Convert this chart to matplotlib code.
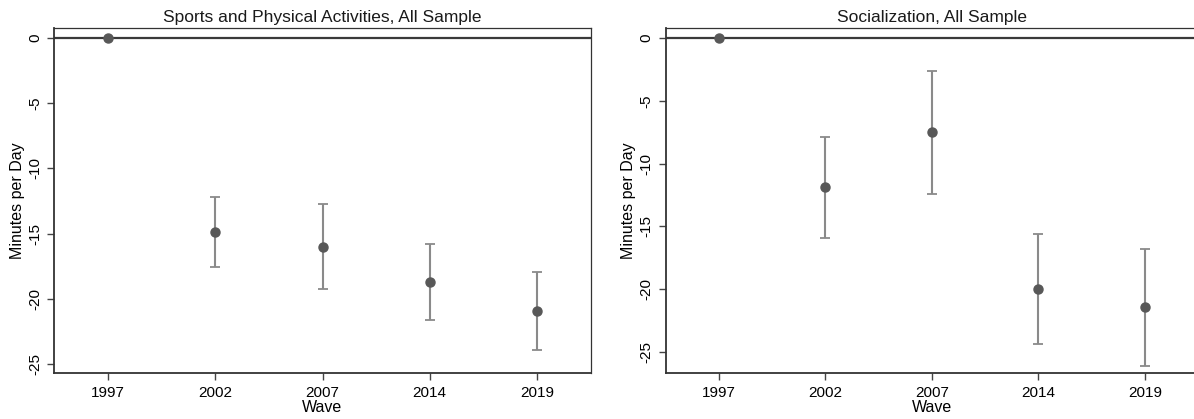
import matplotlib
matplotlib.use("Agg")
import matplotlib.pyplot as plt
import numpy as np

plt.rcParams['font.family'] = ['Liberation Sans', 'DejaVu Sans']

waves = ["1997", "2002", "2007", "2014", "2019"]

sports_est = [0.0, -14.85, -16.0, -18.7, -20.9]
sports_lo = [0.0, -17.55, -19.25, -21.6, -23.95]
sports_hi = [0.0, -12.2, -12.7, -15.8, -17.9]

social_est = [0.0, -11.9, -7.5, -20.0, -21.4]
social_lo = [0.0, -15.9, -12.4, -24.4, -26.1]
social_hi = [0.0, -7.9, -2.6, -15.6, -16.8]

titles = ["Sports and Physical Activities, All Sample", "Socialization, All Sample"]
ylims = [(-25.7, 0.77), (-26.7, 0.8)]
yticks = [0, -5, -10, -15, -20, -25]

fig = plt.figure(figsize=(11.94, 4.19), dpi=100)
W, H = 1194, 419
axes_px = [(54.4, 28, 590.6, 373.3), (665.75, 28, 1198, 373.3)]

data = [(sports_est, sports_lo, sports_hi), (social_est, social_lo, social_hi)]

for i, (l, t, r, b) in enumerate(axes_px):
    ax = fig.add_axes([l / W, 1 - b / H, (r - l) / W, (b - t) / H])
    est, lo, hi = data[i]
    x = np.arange(1, len(waves) + 1)
    est = np.array(est); lo = np.array(lo); hi = np.array(hi)
    ax.axhline(0, color="#3a3a3a", lw=1.6, zorder=1)
    ci_idx = x > 1
    ax.errorbar(x[ci_idx], est[ci_idx],
                yerr=[est[ci_idx] - lo[ci_idx], hi[ci_idx] - est[ci_idx]],
                fmt="none", ecolor="#8a8a8a", elinewidth=1.5, capsize=3.5, capthick=1.3, zorder=2)
    ax.plot(x, est, "o", color="#585858", ms=6.5, zorder=3)
    ax.set_xlim(0.5, 5.5)
    ax.set_ylim(*ylims[i])
    ax.set_xticks(x)
    ax.set_xticklabels(waves, fontsize=11)
    ax.set_yticks(yticks)
    ax.set_yticklabels([str(v) for v in yticks], rotation=90, va="center", fontsize=11)
    ax.tick_params(axis="both", length=5, width=1, color="#444444", pad=4)
    for s in ["left", "bottom"]:
        ax.spines[s].set_linewidth(1.3)
        ax.spines[s].set_color("#333333")
    for s in ["top", "right"]:
        ax.spines[s].set_linewidth(0.9)
        ax.spines[s].set_color("#333333")
    ax.set_title(titles[i], fontsize=12.5, pad=4, color="#1a1a1a")
    ax.set_ylabel("Minutes per Day", fontsize=11.5, labelpad=2)
    ax.set_xlabel("Wave", fontsize=11.5, labelpad=0)

fig.savefig("out.png", dpi=100)
